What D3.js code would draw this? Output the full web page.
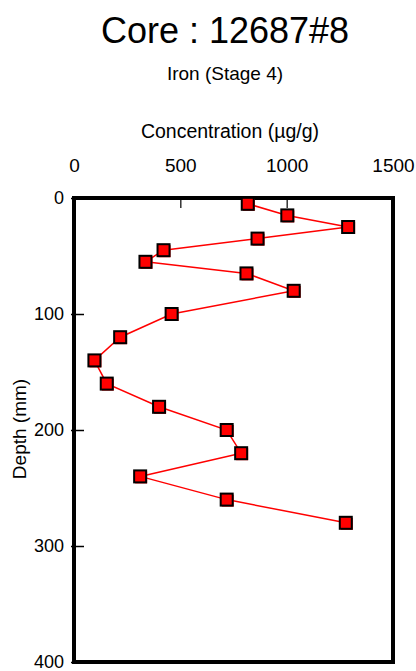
<!DOCTYPE html>
<html>
<head>
<meta charset="utf-8">
<script src="https://cdn.jsdelivr.net/npm/d3@7"></script>
<style>
  body { margin: 0; background: #fff; }
  svg { display: block; font-family: "Liberation Sans", Arial, sans-serif; }
</style>
</head>
<body>
<svg id="chart" width="416" height="671"></svg>
<script>
// depth (mm) and iron concentration (ug/g)
const depths = [5, 15, 25, 35, 45, 55, 65, 80, 100, 120, 140, 160, 180, 200, 220, 240, 260, 280];
const iron   = [817, 1003, 1289, 863, 421, 336, 811, 1033, 459, 217, 96, 154, 400, 718, 786, 311, 718, 1278];
const xTicks = [0, 500, 1000, 1500];
const yTicks = [0, 100, 200, 300, 400];

const data = depths.map(function(d, i){ return { depth: d, conc: iron[i] }; });

let chart = d3.select("#chart");
let margin = { left: 74, right: 23, top: 198, bottom: 9 };
let width = 416 - margin.left - margin.right,
    height = 671 - margin.top - margin.bottom;

// titles
chart.append("text").attr("x", 225).attr("y", 43)
  .attr("text-anchor", "middle").style("font-size", "36px").text("Core : 12687#8");
chart.append("text").attr("x", 225).attr("y", 80)
  .attr("text-anchor", "middle").style("font-size", "19px").text("Iron (Stage 4)");
chart.append("text").attr("x", 230).attr("y", 138)
  .attr("text-anchor", "middle").style("font-size", "19.5px").text("Concentration (µg/g)");
chart.append("text")
  .attr("transform", "translate(26," + 429 + ") rotate(-90)")
  .attr("text-anchor", "middle").style("font-size", "19px").text("Depth (mm)");

let g = chart.append("g")
  .attr("transform", "translate(" + margin.left + "," + margin.top + ")");

// scales
let x = d3.scaleLinear().domain([0, 1500]).range([0, width]);
let y = d3.scaleLinear().domain([0, 400]).range([0, height]);

// top axis, ticks pointing inwards
let xAxis = g.append("g")
  .call(d3.axisTop(x).tickValues(xTicks).tickFormat(d3.format("d"))
    .tickSize(-10).tickPadding(26));
xAxis.select(".domain").remove();
xAxis.selectAll("line").attr("stroke-width", 1.2);
xAxis.selectAll("text").style("font-size", "19px").attr("fill", "#000");

// left axis
let yAxis = g.append("g")
  .call(d3.axisLeft(y).tickValues(yTicks).tickFormat(d3.format("d"))
    .tickSize(-10).tickPadding(10));
yAxis.select(".domain").remove();
yAxis.selectAll("line").attr("x1", -3).attr("stroke-width", 1.5);
yAxis.selectAll("text").style("font-size", "18px").attr("fill", "#000");

// frame
g.append("rect")
  .attr("x", 0).attr("y", 0)
  .attr("width", width).attr("height", height)
  .attr("fill", "none").attr("stroke", "#000").attr("stroke-width", 4);

// profile line
let line = d3.line()
  .x(function(d){ return x(d.conc); })
  .y(function(d){ return y(d.depth); });

g.append("path").datum(data)
  .attr("d", line)
  .attr("fill", "none")
  .attr("stroke", "#ff0000")
  .attr("stroke-width", 1.5);

// markers
let s = 12;
g.selectAll("rect.shadow")
  .data(data).enter()
  .append("rect")
    .attr("class", "shadow")
    .attr("x", function(d){ return x(d.conc) - s / 2 + 1; })
    .attr("y", function(d){ return y(d.depth) - s / 2 + 1; })
    .attr("width", s).attr("height", s)
    .attr("fill", "#ff0000");

g.selectAll("rect.pt")
  .data(data).enter()
  .append("rect")
    .attr("class", "pt")
    .attr("x", function(d){ return x(d.conc) - s / 2; })
    .attr("y", function(d){ return y(d.depth) - s / 2; })
    .attr("width", s).attr("height", s)
    .attr("fill", "#ff0000")
    .attr("stroke", "#000")
    .attr("stroke-width", 2);
</script>
</body>
</html>
